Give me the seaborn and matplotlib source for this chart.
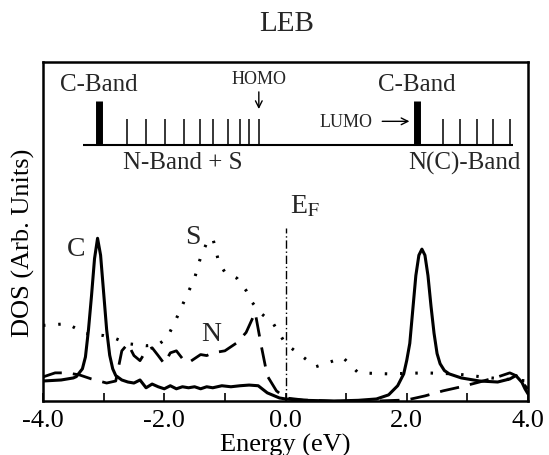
import numpy as np
import pandas as pd
import matplotlib
matplotlib.use("Agg")
import matplotlib.pyplot as plt
import seaborn as sns

# ---- data (energy in eV, DOS in arbitrary units 0..1) ----
c_energy = [-4.0, -3.7, -3.5, -3.45, -3.35, -3.3, -3.25, -3.2, -3.15, -3.1, -3.05, -3.0, -2.95, -2.9,
            -2.85, -2.8, -2.7, -2.6, -2.5, -2.4, -2.3, -2.2, -2.1, -2.0, -1.9, -1.8, -1.7, -1.6, -1.5,
            -1.4, -1.3, -1.2, -1.05, -0.9, -0.75, -0.6, -0.45, -0.3, -0.1, 0.0, 0.3, 0.8, 1.2, 1.5, 1.7,
            1.85, 1.95, 2.0, 2.05, 2.1, 2.15, 2.2, 2.25, 2.3, 2.35, 2.4, 2.45, 2.5, 2.55, 2.62, 2.7, 2.9,
            3.2, 3.5, 3.7, 3.8, 3.9, 3.95, 4.0]
c_dos = [0.059, 0.062, 0.068, 0.072, 0.095, 0.13, 0.21, 0.31, 0.42, 0.48, 0.43, 0.32, 0.21, 0.135,
         0.095, 0.075, 0.062, 0.056, 0.053, 0.062, 0.039, 0.050, 0.042, 0.036, 0.045, 0.036, 0.042,
         0.039, 0.042, 0.036, 0.042, 0.039, 0.045, 0.042, 0.045, 0.047, 0.045, 0.024, 0.009, 0.006,
         0.002, 0.000, 0.002, 0.006, 0.018, 0.045, 0.08, 0.12, 0.17, 0.27, 0.37, 0.43, 0.448, 0.43,
         0.37, 0.28, 0.20, 0.14, 0.11, 0.09, 0.08, 0.068, 0.059, 0.056, 0.065, 0.075, 0.055, 0.036,
         0.021]

n_energy = [-4.0, -3.8, -3.6, -3.4, -3.2, -2.95, -2.8, -2.7, -2.6, -2.5, -2.4, -2.3, -2.2, -2.1, -2.0,
            -1.9, -1.8, -1.7, -1.6, -1.5, -1.4, -1.3, -1.2, -1.0, -0.8, -0.65, -0.5, -0.4, -0.3, -0.15,
            0.0, 0.3, 0.8, 1.5, 2.0, 2.3, 2.6, 2.9, 3.2, 3.5, 3.7, 3.85, 3.95, 4.0]
n_dos = [0.071, 0.083, 0.083, 0.077, 0.065, 0.053, 0.059, 0.148, 0.169, 0.134, 0.119, 0.148, 0.157,
         0.134, 0.110, 0.142, 0.148, 0.125, 0.113, 0.125, 0.137, 0.134, 0.142, 0.148, 0.172, 0.202,
         0.261, 0.163, 0.074, 0.030, 0.009, 0.003, -0.001, 0.000, 0.003, 0.015, 0.030, 0.042, 0.056,
         0.071, 0.083, 0.071, 0.045, 0.036]

s_energy = [-4.0, -3.6, -3.3, -3.0, -2.8, -2.6, -2.3, -2.1, -1.95, -1.8, -1.65, -1.5, -1.4, -1.3, -1.2,
            -1.1, -1.0, -0.8, -0.65, -0.55, -0.42, -0.2, 0.0, 0.2, 0.5, 0.8, 0.95, 1.2, 1.7, 2.3, 2.8,
            3.4, 4.0]
s_dos = [0.223, 0.228, 0.199, 0.193, 0.184, 0.169, 0.163, 0.166, 0.187, 0.243, 0.303, 0.362, 0.424,
         0.466, 0.481, 0.409, 0.380, 0.362, 0.326, 0.291, 0.261, 0.228, 0.169, 0.142, 0.101, 0.119,
         0.128, 0.083, 0.080, 0.083, 0.080, 0.068, 0.059]

# band diagram (inset) levels
c_band_levels = [-3.08, 2.17]
n_band_levels = [-2.62, -2.30, -1.99, -1.67, -1.41, -1.19, -0.95, -0.75, -0.60, -0.44]
nc_band_levels = [2.60, 2.88, 3.16, 3.43, 3.71]
band_base = 0.754
band_line = [-3.34, 3.76]
thick_top = 0.884
thin_top = 0.831

sns.set_theme(style="white")
plt.rcParams['font.family'] = ['Liberation Serif', 'DejaVu Serif']
plt.rcParams['mathtext.fontset'] = 'stix'

fig = plt.figure(figsize=(5.49, 4.56), dpi=100)
ax = fig.add_axes([43/549, 1-402/456, 485/549, 339/456])

df_c = pd.DataFrame({"E": c_energy, "D": c_dos})
df_n = pd.DataFrame({"E": n_energy, "D": n_dos})
df_s = pd.DataFrame({"E": s_energy, "D": s_dos})

sns.lineplot(data=df_c, x="E", y="D", ax=ax, color="black", lw=2.2, estimator=None, sort=False)
sns.lineplot(data=df_n, x="E", y="D", ax=ax, color="black", lw=2.0, estimator=None, sort=False,
             linestyle=(0, (7, 4)))
sns.lineplot(data=df_s, x="E", y="D", ax=ax, color="black", lw=2.2, estimator=None, sort=False,
             linestyle=(0, (0.8, 4.2)))

# Fermi level
ax.vlines(0.0, 0, 0.51, color="black", lw=1.0, linestyles=(0, (6, 2, 1, 2)))

ax.set_xlim(-4, 4)
ax.set_ylim(0, 1)
ax.set_xticks([-4, -2, 0, 2, 4])
ax.set_xticklabels(["-4.0", "-2.0", "0.0", "2.0", "4.0"])
ax.set_xticks([-3, -1, 1, 3], minor=True)
ax.set_yticks([])
ax.tick_params(axis="x", which="both", direction="in", length=6, width=1.2, labelsize=19, pad=6,
               bottom=True, colors="black")
for s in ax.spines.values():
    s.set_color("black")
    s.set_linewidth(1.8)
ax.set_xlabel("Energy (eV)", fontsize=19, labelpad=1, color="black")
ax.set_ylabel("DOS (Arb. Units)", fontsize=19, color="black")
ax.yaxis.set_label_coords(-0.016, 0.47)
fig.text(287/549, 1-24/456, "LEB", fontsize=21, ha="center", va="center")

# inset band diagram
ax.hlines(band_base, band_line[0], band_line[1], color="black", lw=1.5)
ax.vlines(c_band_levels, band_base, thick_top, color="black", lw=5)
ax.vlines(n_band_levels, band_base, thin_top, color="black", lw=1.1)
ax.vlines(nc_band_levels, band_base, thin_top, color="black", lw=1.1)
ax.text(c_band_levels[0], 0.935, "C-Band", fontsize=18, ha="center", va="center")
ax.text(c_band_levels[1], 0.935, "C-Band", fontsize=18, ha="center", va="center")
ax.text(-1.7, 0.705, "N-Band + S", fontsize=18, ha="center", va="center")
ax.text(2.95, 0.705, "N(C)-Band", fontsize=18, ha="center", va="center")
ax.text(n_band_levels[-1], 0.952, "HOMO", fontsize=13, ha="center", va="center")
ax.annotate("", xy=(n_band_levels[-1], 0.853), xytext=(n_band_levels[-1], 0.92),
            arrowprops=dict(arrowstyle="->", color="black", lw=1.0))
ax.text(1.0, 0.825, "LUMO", fontsize=13, ha="center", va="center")
ax.annotate("", xy=(c_band_levels[1] - 0.08, 0.825), xytext=(1.55, 0.825),
            arrowprops=dict(arrowstyle="->", color="black", lw=1.0))

# curve labels
ax.text(-3.45, 0.45, "C", fontsize=20, ha="center", va="center")
ax.text(-1.52, 0.485, "S", fontsize=20, ha="center", va="center")
ax.text(-1.22, 0.2, "N", fontsize=20, ha="center", va="center")
ax.text(0.08, 0.575, r"E$_{\mathrm{F}}$", fontsize=20, ha="left", va="center")

fig.savefig("out.png", dpi=100)
